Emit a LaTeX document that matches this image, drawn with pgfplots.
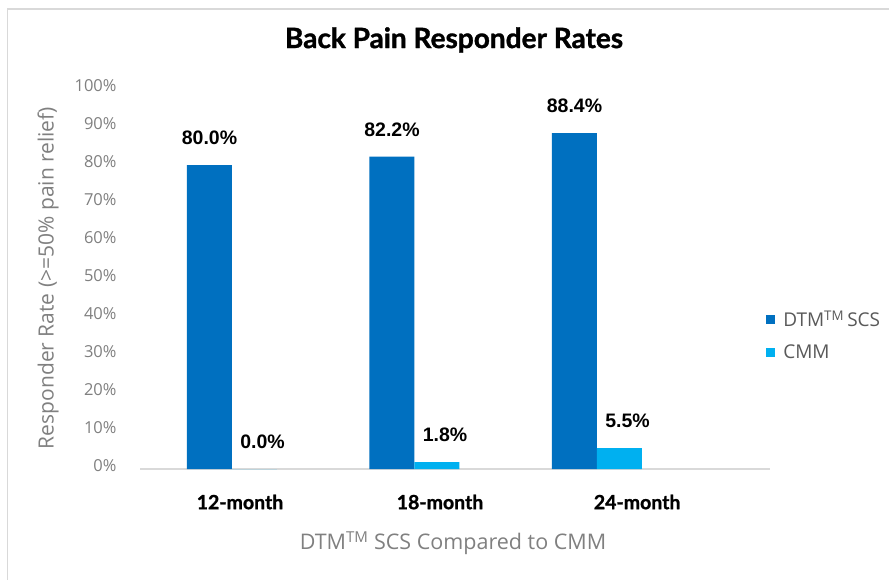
\documentclass[border=0pt]{standalone}
\usepackage{fontspec}
\setmainfont{Open Sans}
\newfontfamily\lato{Lato}[BoldFeatures={FakeBold=1.2}]
\newfontfamily\arialf{Liberation Sans}
\usepackage{pgfplots}
\pgfplotsset{compat=1.18}
\definecolor{dtm}{HTML}{0070C0}
\definecolor{cmm}{HTML}{00B0F0}
\definecolor{txtgray}{HTML}{808080}
\definecolor{legtxt}{HTML}{595959}
\definecolor{linegray}{HTML}{D9D9D9}
\begin{document}
\begin{tikzpicture}[x=1pt,y=1pt]
\useasboundingbox (0,0) rectangle (889,-580);
\fill[white] (0,0) rectangle (889,-580);
\draw[linegray, line width=1.5pt] (7.5,-580) -- (7.5,-9) -- (889,-9);
\begin{axis}[
  at={(140pt,-469pt)}, anchor=south west,
  scale only axis, width=630pt, height=380pt,
  xmin=-0.504, xmax=2.948, ymin=0, ymax=100,
  ybar=0pt, bar width=45pt,
  axis lines*=left,
  x axis line style={draw=linegray, line width=1.5pt},
  y axis line style={draw=none},
  major tick length=0pt,
  xtick={0.044,1.14,2.22},
  xticklabels={12-month,18-month,24-month},
  xticklabel style={anchor=center, yshift=-33pt, font=\lato\bfseries\fontsize{19.5}{22}\selectfont, text=black},
  ytick={0,10,...,100},
  yticklabels={0\%,10\%,20\%,30\%,40\%,50\%,60\%,70\%,80\%,90\%,100\%},
  yticklabel style={anchor=east, xshift=-20pt, yshift=3pt, font=\fontsize{16.5}{19}\selectfont, text=txtgray},
  point meta=explicit symbolic,
  nodes near coords,
  nodes near coords style={anchor=center, yshift=27pt, font=\arialf\bfseries\fontsize{19.5}{22}\selectfont, text=black},
  legend style={at={(0.989,0.4263)}, anchor=north west, draw=none, fill=none,
    font=\fontsize{19}{22}\selectfont, text=legtxt, row sep=12pt,
    /tikz/every odd column/.append style={column sep=6pt}},
  legend cell align=left,
  legend image code/.code={\fill[#1] (0pt,-4.5pt) rectangle (9pt,4.5pt);},
  clip=false,
]
\addplot[fill=dtm, draw=none] coordinates {(0,80.0) [80.0\%] (1,82.2) [82.2\%] (2,88.4) [88.4\%]};
\addplot[fill=cmm, draw=none, nodes near coords style={xshift=8pt}] coordinates {(0,0.0) [0.0\%] (1,1.8) [1.8\%] (2,5.5) [5.5\%]};
\legend{DTM\textsuperscript{TM}\,SCS, CMM}
\end{axis}
\node[font=\lato\bfseries\fontsize{28}{32}\selectfont] at (454,-40) {Back Pain Responder Rates};
\node[font=\fontsize{21.5}{25}\selectfont, text=txtgray] at (453,-543) {DTM\textsuperscript{TM} SCS Compared to CMM};
\node[rotate=90, font=\fontsize{21}{24}\selectfont, text=txtgray] at (48,-278) {Responder Rate (>=50\% pain relief)};
\end{tikzpicture}
\end{document}
